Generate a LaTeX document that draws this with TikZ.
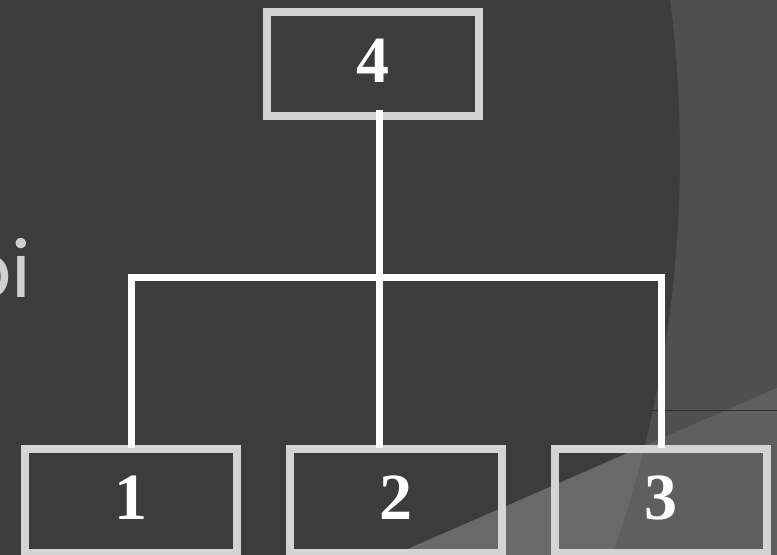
\documentclass[tikz,border=0pt]{standalone}
\usepackage{fontspec}
\setmainfont{Liberation Serif}
\newfontfamily\slidefont{Carlito}
\usepackage{tikz}
\usetikzlibrary{positioning,calc}
\definecolor{slideBg}{HTML}{3C3C3C}
\definecolor{slideArc}{HTML}{4F4F4F}
\definecolor{slideWedge}{HTML}{696969}
\definecolor{slideWedgeOut}{HTML}{5F5F5F}
\definecolor{slideRule}{HTML}{2E2E2E}
\definecolor{slideText}{HTML}{D0D0D0}
\definecolor{boxLine}{HTML}{D4D4D4}
\tikzset{
  box/.style={
    rectangle,
    draw=boxLine,
    line width=6pt,
    minimum width=159pt,
    minimum height=78pt,
    inner sep=0pt,
    text depth=4.5pt,
    text=white,
    font=\fontsize{49.5}{50}\selectfont\bfseries
  },
  link/.style={draw=white, line width=5.25pt}
}

\begin{document}
\begin{tikzpicture}[x=0.75pt, y=-0.75pt]
  \useasboundingbox (0,0) rectangle (777,555);
  % slide background
  \fill[slideBg] (0,0) rectangle (777,555);
  \begin{scope}
    \clip (0,0) rectangle (777,555);
    \fill[slideArc, even odd rule] (0,0) rectangle (777,555) (-529,155) circle[radius=1209];
    \fill[slideWedgeOut] (394,555) -- (777,388) -- (777,555) -- cycle;
    \begin{scope}
      \clip (-529,155) circle[radius=1209];
      \fill[slideWedge] (394,555) -- (777,388) -- (777,555) -- cycle;
    \end{scope}
    \draw[slideRule, line width=0.75pt] (652,410) -- (777,410);
    \node[anchor=base east, inner sep=0pt, text=slideText,
          font=\slidefont\fontsize{64.5}{65}\selectfont] (word) at (32,298) {oi};
  \end{scope}

  % tree
  \node[box] (top) at (373,64) {4};
  \node[box] (one) at (131,501) {1};
  \node[box, right=33.75pt of one] (two) {2};
  \node[box, right=33.75pt of two] (three) {3};
  \coordinate (hub) at (379,278);

  \draw[link] ($(top.south -| hub)+(0,-10)$) -- ($(two.north -| hub)+(0,3)$);
  \draw[link] ($(one.north)+(0,3)$) -- (one.north |- hub) -- (three.north |- hub) -- ($(three.north)+(0,3)$);
\end{tikzpicture}
\end{document}
